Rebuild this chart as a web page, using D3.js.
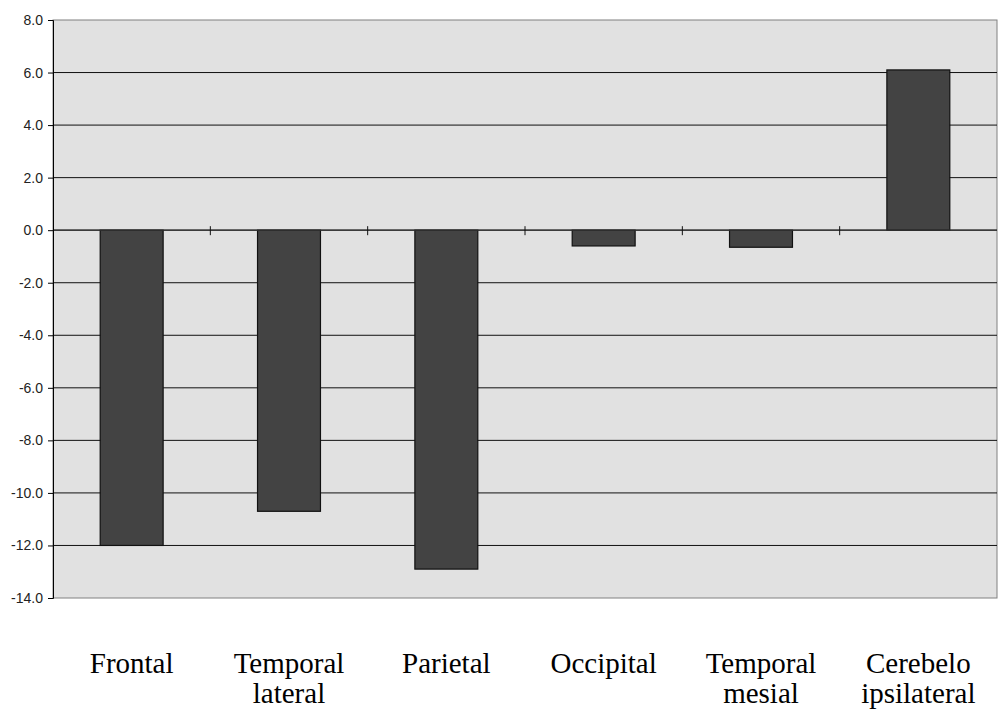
<!DOCTYPE html>
<html>
<head>
<meta charset="utf-8">
<script src="https://cdn.jsdelivr.net/npm/d3@7"></script>
<style>
  html, body { margin: 0; padding: 0; background: #fff; }
  svg { display: block; }
</style>
</head>
<body>
<svg id="chart" width="998" height="711"></svg>
<script>
// Regions and their values
const categories = [
  ["Frontal"],
  ["Temporal", "lateral"],
  ["Parietal"],
  ["Occipital"],
  ["Temporal", "mesial"],
  ["Cerebelo", "ipsilateral"]
];
const values = [-12.0, -10.7, -12.9, -0.6, -0.65, 6.1];
const yTicks = [-14, -12, -10, -8, -6, -4, -2, 0, 2, 4, 6, 8];

const svg = d3.select("#chart");
const plot = { left: 53, right: 997, top: 20, bottom: 598 };

const keys = categories.map((c, i) => i);
const x = d3.scaleBand().domain(keys).range([plot.left, plot.right]);
const y = d3.scaleLinear().domain([-14, 8]).range([plot.bottom, plot.top]);

// Plot background
svg.append("rect")
  .attr("x", plot.left).attr("y", plot.top)
  .attr("width", plot.right - plot.left).attr("height", plot.bottom - plot.top)
  .attr("fill", "#e1e1e1")
  .attr("stroke", "#808080").attr("stroke-width", 1);

// Horizontal grid lines
svg.append("g")
  .selectAll("line")
  .data(yTicks.filter(t => t !== -14 && t !== 8))
  .join("line")
  .attr("x1", plot.left).attr("x2", plot.right)
  .attr("y1", d => y(d)).attr("y2", d => y(d))
  .attr("stroke", "#111").attr("stroke-width", 1);

// Bars
const barW = x.bandwidth() * 0.4;
svg.append("g")
  .selectAll("rect")
  .data(values)
  .join("rect")
  .attr("x", (d, i) => x(i) + (x.bandwidth() - barW) / 2)
  .attr("y", d => y(Math.max(0, d)))
  .attr("width", barW)
  .attr("height", d => Math.abs(y(d) - y(0)))
  .attr("fill", "#434343")
  .attr("stroke", "#111").attr("stroke-width", 1.2);

// Zero line with category tick marks
svg.append("line")
  .attr("x1", plot.left).attr("x2", plot.right)
  .attr("y1", y(0)).attr("y2", y(0))
  .attr("stroke", "#333").attr("stroke-width", 1.2);
svg.append("g")
  .selectAll("line")
  .data(keys.slice(1))
  .join("line")
  .attr("x1", d => x(d)).attr("x2", d => x(d))
  .attr("y1", y(0) - 4).attr("y2", y(0) + 5)
  .attr("stroke", "#111").attr("stroke-width", 1);

// Y axis (hyphen as the minus sign)
const fmt = d3.format(".1f");
const yAxis = d3.axisLeft(y)
  .tickValues(yTicks)
  .tickFormat(d => fmt(d).replace("\u2212", "-"))
  .tickSize(5)
  .tickPadding(5);
const gy = svg.append("g")
  .attr("transform", `translate(${plot.left},0)`)
  .call(yAxis);
gy.select(".domain").attr("stroke", "#000");
gy.selectAll(".tick line").attr("stroke", "#000");
gy.selectAll(".tick text")
  .attr("font-family", "Arial, 'Liberation Sans', sans-serif")
  .attr("font-size", 14)
  .attr("fill", "#222");

// Category labels
const lab = svg.append("g")
  .selectAll("text")
  .data(categories)
  .join("text")
  .attr("x", (d, i) => x(i) + x.bandwidth() / 2)
  .attr("y", 673)
  .attr("text-anchor", "middle")
  .attr("font-family", "'Liberation Serif', 'Times New Roman', serif")
  .attr("font-size", 29)
  .attr("fill", "#000");
lab.selectAll("tspan")
  .data(d => d)
  .join("tspan")
  .attr("x", function () { return this.parentNode.getAttribute("x"); })
  .attr("dy", (d, i) => i === 0 ? 0 : 30)
  .text(d => d);
</script>
</body>
</html>
